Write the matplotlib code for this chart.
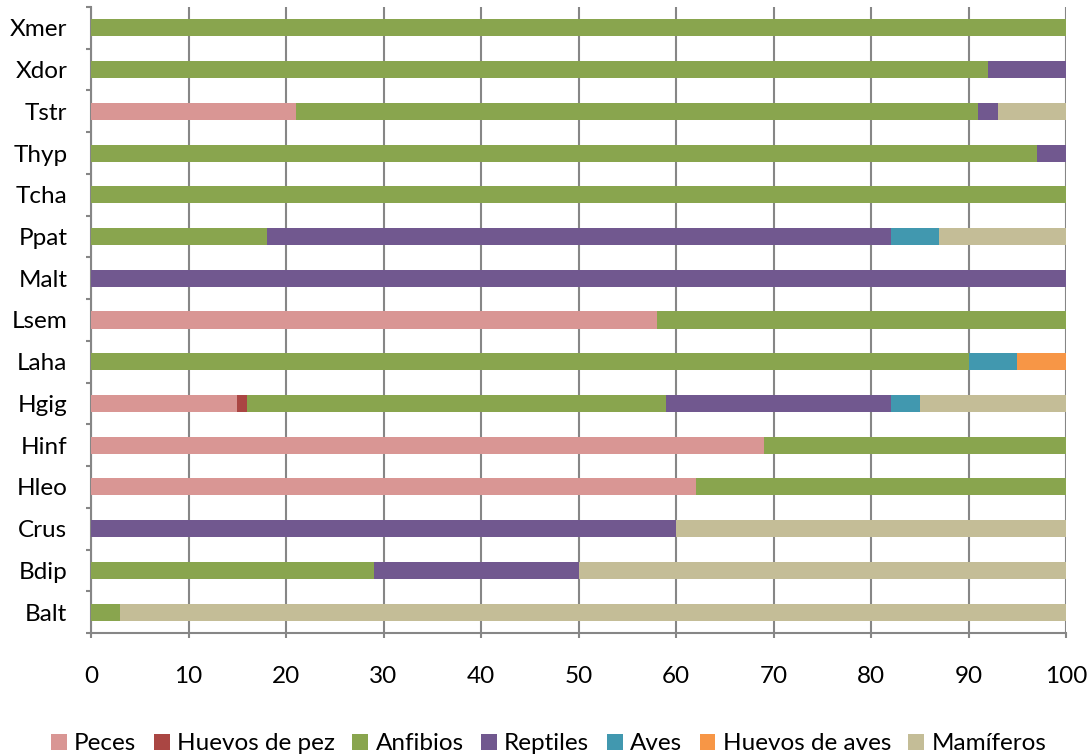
import matplotlib.pyplot as plt
import numpy as np

species = ["Balt", "Bdip", "Crus", "Hleo", "Hinf", "Hgig", "Laha", "Lsem",
           "Malt", "Ppat", "Tcha", "Thyp", "Tstr", "Xdor", "Xmer"]

peces        = [0, 0, 0, 62, 69, 15, 0, 58, 0, 0, 0, 0, 21, 0, 0]
huevos_pez   = [0, 0, 0, 0, 0, 1, 0, 0, 0, 0, 0, 0, 0, 0, 0]
anfibios     = [3, 29, 0, 38, 31, 43, 90, 42, 0, 18, 100, 97, 70, 92, 100]
reptiles     = [0, 21, 60, 0, 0, 23, 0, 0, 100, 64, 0, 3, 2, 8, 0]
aves         = [0, 0, 0, 0, 0, 3, 5, 0, 0, 5, 0, 0, 0, 0, 0]
huevos_aves  = [0, 0, 0, 0, 0, 0, 5, 0, 0, 0, 0, 0, 0, 0, 0]
mamiferos    = [97, 50, 40, 0, 0, 15, 0, 0, 0, 13, 0, 0, 7, 0, 0]

series = [
    ("Peces", peces, "#D99694"),
    ("Huevos de pez", huevos_pez, "#AA4643"),
    ("Anfibios", anfibios, "#89A54E"),
    ("Reptiles", reptiles, "#71588F"),
    ("Aves", aves, "#4198AF"),
    ("Huevos de aves", huevos_aves, "#F79646"),
    ("Mamíferos", mamiferos, "#C4BD97"),
]

plt.rcParams["font.family"] = ["Lato", "DejaVu Sans"]

fig = plt.figure(figsize=(10.91, 7.56), dpi=100)
ax = fig.add_axes([91 / 1091, 1 - 633 / 756, 975 / 1091, 626 / 756])

y = np.arange(len(species))
left = np.zeros(len(species))
for name, vals, col in series:
    vals = np.array(vals, dtype=float)
    ax.barh(y, vals, left=left, height=0.41, color=col, label=name, zorder=3)
    left += vals

ax.set_xlim(0, 100)
ax.set_ylim(-0.5, len(species) - 0.5)
ax.set_xticks(np.arange(0, 101, 10))
ax.set_yticks(y)
ax.set_yticklabels(species)
ax.set_yticks(np.arange(-0.5, len(species), 1), minor=True)
ax.tick_params(axis="y", which="major", length=0, pad=17, labelsize=17.5)
ax.tick_params(axis="y", which="minor", length=3.6, width=1.5, color="#868686")
ax.tick_params(axis="x", length=3.6, width=1.5, color="#868686", pad=20, labelsize=17.5)

ax.grid(axis="x", color="#868686", linewidth=1.5, zorder=0)
for s in ["top", "right"]:
    ax.spines[s].set_visible(False)
for s in ["left", "bottom"]:
    ax.spines[s].set_color("#868686")
    ax.spines[s].set_linewidth(1.5)

handles, labels = ax.get_legend_handles_labels()
fig.legend(handles, labels, loc="center", bbox_to_anchor=(0.503, 1 - 744 / 756),
           ncol=7, frameon=False, fontsize=17.5, handlelength=0.65, handleheight=0.65,
           handletextpad=0.3, columnspacing=0.72, borderaxespad=0)

fig.savefig("out.png", dpi=100)
